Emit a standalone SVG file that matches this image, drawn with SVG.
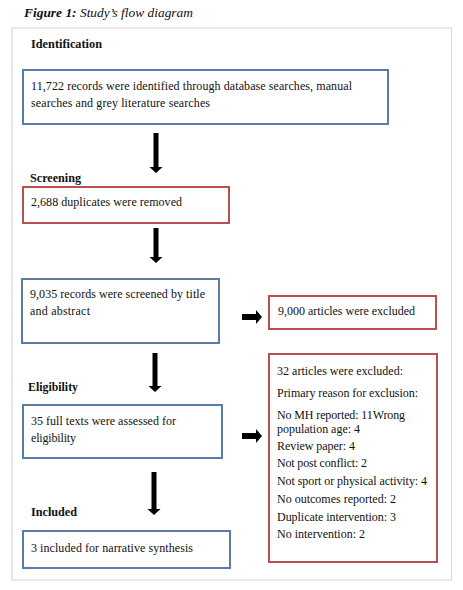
<svg xmlns="http://www.w3.org/2000/svg" width="463" height="590" viewBox="0 0 463 590">
<defs>
<style>
text{font-family:"Liberation Serif","DejaVu Serif",serif;font-size:12px;fill:#111}
.h{font-weight:bold}
.blue{fill:#fff;stroke:#5a7da8;stroke-width:2}
.red{fill:#fff;stroke:#b8504f;stroke-width:2}
.arr{fill:#000}
</style>
</defs>
<rect width="463" height="590" fill="#fff"/>
<text x="24" y="17" style="font-size:13.5px;font-style:italic" textLength="169" lengthAdjust="spacingAndGlyphs"><tspan font-weight="bold">Figure 1:</tspan> Study’s flow diagram</text>
<rect x="12" y="28" width="439.5" height="552" fill="none" stroke="#d9d9d9" stroke-width="1.2"/>
<g id="stage-labels">
<text class="h" x="31" y="48" textLength="71" lengthAdjust="spacingAndGlyphs">Identification</text>
<text class="h" x="30" y="182" textLength="51" lengthAdjust="spacingAndGlyphs">Screening</text>
<text class="h" x="28" y="391" textLength="50" lengthAdjust="spacingAndGlyphs">Eligibility</text>
<text class="h" x="31" y="516" textLength="46" lengthAdjust="spacingAndGlyphs">Included</text>
</g>
<g id="identified">
<rect class="blue" x="23" y="70" width="365" height="54"/>
<text x="31" y="90" textLength="321">11,722 records were identified through database searches, manual</text>
<text x="31" y="107" textLength="179">searches and grey literature searches</text>
</g>
<g id="duplicates">
<rect class="red" x="23" y="187" width="206" height="36"/>
<text x="31" y="206" textLength="151">2,688 duplicates were removed</text>
</g>
<g id="screened">
<rect class="blue" x="22" y="279" width="197" height="64"/>
<text x="30" y="298" textLength="175">9,035 records were screened by title</text>
<text x="30" y="315" textLength="60">and abstract</text>
</g>
<g id="excluded1">
<rect class="red" x="269" y="296" width="167" height="33"/>
<text x="278" y="315" textLength="137">9,000 articles were excluded</text>
</g>
<g id="fulltext">
<rect class="blue" x="23" y="405" width="199" height="53"/>
<text x="31" y="425" textLength="145">35 full texts were assessed for</text>
<text x="31" y="442" textLength="45">eligibility</text>
</g>
<g id="excluded2">
<rect class="red" x="269" y="354" width="168" height="208"/>
<text x="277" y="375" textLength="126">32 articles were excluded:</text>
<text x="277" y="397" textLength="141">Primary reason for exclusion:</text>
<text x="277" y="419" textLength="128">No MH reported: 11Wrong</text>
<text x="277" y="433" textLength="83">population age: 4</text>
<text x="277" y="450" textLength="78">Review paper: 4</text>
<text x="277" y="467" textLength="90">Not post conflict: 2</text>
<text x="277" y="485" textLength="150">Not sport or physical activity: 4</text>
<text x="277" y="503" textLength="119">No outcomes reported: 2</text>
<text x="277" y="521" textLength="119">Duplicate intervention: 3</text>
<text x="277" y="538" textLength="88">No intervention: 2</text>
</g>
<g id="included">
<rect class="blue" x="23" y="531" width="207" height="37"/>
<text x="31" y="552" textLength="162">3 included for narrative synthesis</text>
</g>
<g id="connectors">
<path class="arr" d="M153.5,133 h5 v34 h4 l-6.5,6 l-6.5,-6 h4 z"/>
<path class="arr" d="M153.5,228 h5 v29 h4 l-6.5,6 l-6.5,-6 h4 z"/>
<path class="arr" d="M152.5,353 h5 v33 h4 l-6.5,6 l-6.5,-6 h4 z"/>
<path class="arr" d="M151.5,472 h5 v37 h4 l-6.5,6 l-6.5,-6 h4 z"/>
<path class="arr" d="M242,314 h14 v-4 l6,7 l-6,7 v-4 h-14 z"/>
<path class="arr" d="M242,433 h14 v-4 l6,7 l-6,7 v-4 h-14 z"/>
</g>
</svg>
